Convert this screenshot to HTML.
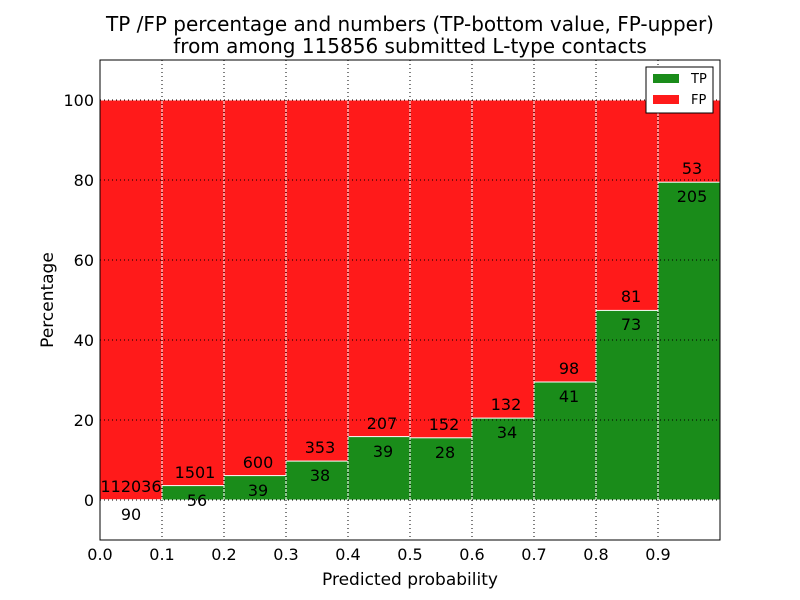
<!DOCTYPE html>
<html><head><style>body{margin:0;background:#fff}svg{display:block;font-family:"DejaVu Sans","Liberation Sans",sans-serif}</style></head><body>
<svg width="800" height="600" xmlns="http://www.w3.org/2000/svg">
<rect width="800" height="600" fill="#fff"/>
<text x="410" y="31" font-size="20" text-anchor="middle">TP /FP percentage and numbers (TP-bottom value, FP-upper)</text>
<text x="410" y="53" font-size="20" text-anchor="middle">from among 115856 submitted L-type contacts</text>
<g stroke="#fff" stroke-width="1">
<rect x="100" y="100" width="62" height="400" fill="#ff1a1a"/>
<rect x="162" y="100" width="62" height="400" fill="#ff1a1a"/>
<rect x="224" y="100" width="62" height="400" fill="#ff1a1a"/>
<rect x="286" y="100" width="62" height="400" fill="#ff1a1a"/>
<rect x="348" y="100" width="62" height="400" fill="#ff1a1a"/>
<rect x="410" y="100" width="62" height="400" fill="#ff1a1a"/>
<rect x="472" y="100" width="62" height="400" fill="#ff1a1a"/>
<rect x="534" y="100" width="62" height="400" fill="#ff1a1a"/>
<rect x="596" y="100" width="62" height="400" fill="#ff1a1a"/>
<rect x="658" y="100" width="62" height="400" fill="#ff1a1a"/>
<rect x="100" y="499.7" width="62" height="0.3" fill="#1a8c1a"/>
<rect x="162" y="485.6" width="62" height="14.4" fill="#1a8c1a"/>
<rect x="224" y="475.6" width="62" height="24.4" fill="#1a8c1a"/>
<rect x="286" y="461.1" width="62" height="38.9" fill="#1a8c1a"/>
<rect x="348" y="436.6" width="62" height="63.4" fill="#1a8c1a"/>
<rect x="410" y="437.8" width="62" height="62.2" fill="#1a8c1a"/>
<rect x="472" y="418.1" width="62" height="81.9" fill="#1a8c1a"/>
<rect x="534" y="382" width="62" height="118" fill="#1a8c1a"/>
<rect x="596" y="310.4" width="62" height="189.6" fill="#1a8c1a"/>
<rect x="658" y="182.2" width="62" height="317.8" fill="#1a8c1a"/>
</g>
<g stroke="#000" stroke-width="1" stroke-dasharray="1,3">
<line x1="162" y1="60" x2="162" y2="540"/><line x1="224" y1="60" x2="224" y2="540"/><line x1="286" y1="60" x2="286" y2="540"/><line x1="348" y1="60" x2="348" y2="540"/><line x1="410" y1="60" x2="410" y2="540"/><line x1="472" y1="60" x2="472" y2="540"/><line x1="534" y1="60" x2="534" y2="540"/><line x1="596" y1="60" x2="596" y2="540"/><line x1="658" y1="60" x2="658" y2="540"/>
<line x1="100" y1="500" x2="720" y2="500"/><line x1="100" y1="420" x2="720" y2="420"/><line x1="100" y1="340" x2="720" y2="340"/><line x1="100" y1="260" x2="720" y2="260"/><line x1="100" y1="180" x2="720" y2="180"/><line x1="100" y1="100" x2="720" y2="100"/>
</g>
<rect x="100" y="60" width="620" height="480" fill="none" stroke="#000"/>
<g font-size="16" text-anchor="middle">
<text x="131" y="520">90</text><text x="131" y="492">112036</text>
<text x="197" y="506">56</text><text x="195" y="478">1501</text>
<text x="258" y="496">39</text><text x="258" y="468">600</text>
<text x="320" y="481">38</text><text x="320" y="453">353</text>
<text x="383" y="457">39</text><text x="382" y="429">207</text>
<text x="445" y="458">28</text><text x="444" y="430">152</text>
<text x="507" y="438">34</text><text x="506" y="410">132</text>
<text x="569" y="402">41</text><text x="569" y="374">98</text>
<text x="631" y="330">73</text><text x="631" y="302">81</text>
<text x="692" y="202">205</text><text x="692" y="174">53</text>
</g>
<g font-size="16" text-anchor="middle">
<text x="100" y="560">0.0</text><text x="162" y="560">0.1</text><text x="224" y="560">0.2</text><text x="286" y="560">0.3</text><text x="348" y="560">0.4</text><text x="410" y="560">0.5</text><text x="472" y="560">0.6</text><text x="534" y="560">0.7</text><text x="596" y="560">0.8</text><text x="658" y="560">0.9</text>
<text x="410" y="585" font-size="17">Predicted probability</text>
</g>
<g font-size="16" text-anchor="end">
<text x="94" y="506">0</text><text x="94" y="426">20</text><text x="94" y="346">40</text><text x="94" y="266">60</text><text x="94" y="186">80</text><text x="94" y="106">100</text>
</g>
<text x="53" y="300" font-size="17" text-anchor="middle" transform="rotate(-90 53 300)">Percentage</text>
<rect x="646" y="67" width="67" height="46" fill="#fff" stroke="#000"/>
<rect x="653" y="74" width="26" height="9" fill="#1a8c1a"/>
<rect x="653" y="95" width="26" height="9" fill="#ff1a1a"/>
<text x="691" y="83" font-size="13">TP</text>
<text x="691" y="104" font-size="13">FP</text>
</svg>
</body></html>
